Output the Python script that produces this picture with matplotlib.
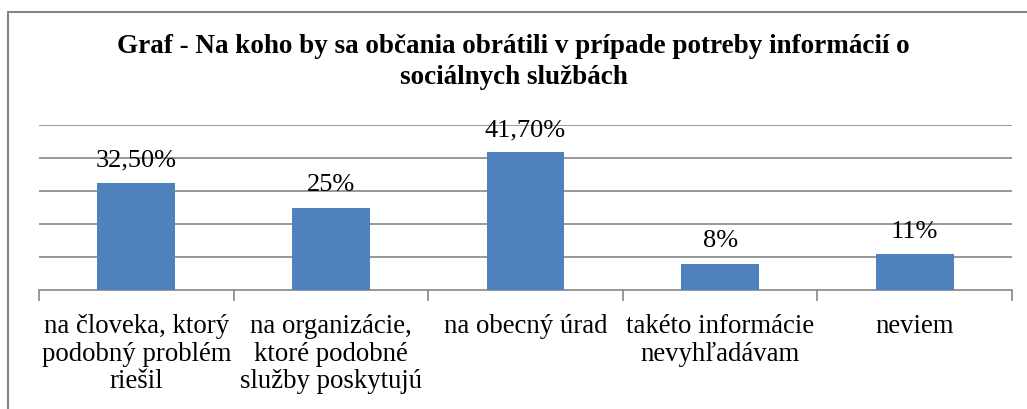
import numpy as np
import matplotlib.pyplot as plt
from matplotlib.patches import Rectangle

categories = ["na človeka, ktorý\npodobný problém\nriešil",
              "na organizácie,\nktoré podobné\nslužby poskytujú",
              "na obecný úrad",
              "takéto informácie\nnevyhľadávam",
              "neviem"]
values = [32.5, 25, 41.7, 8, 11]
value_labels = ["32,50%", "25%", "41,70%", "8%", "11%"]

plt.rcParams['font.family'] = ['Liberation Serif', 'DejaVu Serif']

fig = plt.figure(figsize=(10.27, 4.09), dpi=100)
ax = fig.add_axes([39 / 1027, 1 - 290 / 409, (1012 - 39) / 1027, (290 - 125) / 409])

x = np.arange(len(values))
ax.bar(x, values, 0.4, color='#4F81BD', zorder=3)
for xi, v, lab in zip(x, values, value_labels):
    ax.annotate(lab, (xi, v), xytext=(0, 8), textcoords='offset points',
                ha='center', va='bottom', fontsize=19)

ax.set_xlim(-0.5, len(values) - 0.5)
ax.set_ylim(0, 50)
ax.set_yticks([10, 20, 30, 40, 50])
ax.yaxis.grid(True, color='#868686', linewidth=1.2, zorder=0)
ax.tick_params(axis='y', length=0, labelleft=False)
ax.set_xticks(np.arange(-0.5, len(values), 1))
ax.set_xticklabels([])
ax.tick_params(axis='x', length=8, color='#868686', width=1.2)
for s in ['top', 'right', 'left']:
    ax.spines[s].set_visible(False)
ax.spines['bottom'].set_color('#868686')
ax.spines['bottom'].set_linewidth(1.2)

for xi, c in zip(x, categories):
    ax.annotate(c, (xi, 0), xytext=(0, -17.5), textcoords='offset points',
                ha='center', va='top', fontsize=19.3, linespacing=1.12,
                annotation_clip=False)

fig.text(0.5, 1 - 62 / 409, "Graf - Na koho by sa občania obrátili v prípade potreby informácií o\nsociálnych službách",
         ha='center', va='center', fontsize=19.5, fontweight='bold', linespacing=1.3)

fig.patches.append(Rectangle((8 / 1027, -0.1), 1.1, 1 - 12 / 409 + 0.1, transform=fig.transFigure,
                             fill=False, edgecolor='#868686', linewidth=1.5))

fig.savefig('out.png', dpi=100)
